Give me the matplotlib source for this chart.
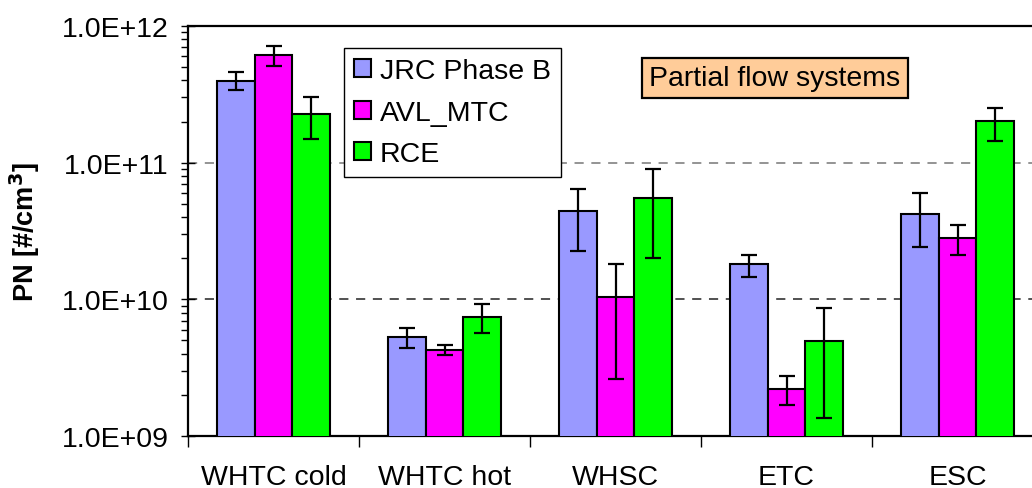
import matplotlib.pyplot as plt
import numpy as np
from matplotlib.ticker import LogLocator, FuncFormatter, NullFormatter

plt.rcParams['font.family'] = ['Liberation Sans', 'DejaVu Sans']

# values (particles per cm3)
cycles = ['WHTC cold', 'WHTC hot', 'WHSC', 'ETC', 'ESC']
labs = ['JRC Phase B', 'AVL_MTC', 'RCE']

jrc = [3.94e11, 5.33e9, 4.43e10, 1.81e10, 4.24e10]
jrc_hi = [4.6e11, 6.18e9, 6.42e10, 2.11e10, 5.97e10]
jrc_lo = [3.4e11, 4.41e9, 2.27e10, 1.45e10, 2.43e10]

avl = [6.1e11, 4.29e9, 1.035e10, 2.19e9, 2.83e10]
avl_hi = [7.1e11, 4.6e9, 1.81e10, 2.74e9, 3.52e10]
avl_lo = [5.1e11, 3.92e9, 2.63e9, 1.69e9, 2.1e10]

rce = [2.26e11, 7.43e9, 5.52e10, 4.96e9, 2.01e11]
rce_hi = [3.03e11, 9.3e9, 8.95e10, 8.6e9, 2.51e11]
rce_lo = [1.5e11, 5.7e9, 2.02e10, 1.35e9, 1.44e11]

colors = ['#9999ff', '#ff00ff', '#00ff00']

fig = plt.figure(figsize=(10.32, 4.89), dpi=100)
# axes runs slightly past the right edge, like the original screenshot
ax = fig.add_axes([188/1032, 1 - 437/489, 855/1032, 410/489])

x = np.arange(len(cycles))
w = 0.222
series = [(jrc, jrc_lo, jrc_hi), (avl, avl_lo, avl_hi), (rce, rce_lo, rce_hi)]
for i, (vals, lo, hi) in enumerate(series):
    vals = np.array(vals)
    err = [vals - np.array(lo), np.array(hi) - vals]
    ax.bar(x + (i - 1) * w, vals, width=w, color=colors[i], edgecolor='black',
           linewidth=1.5, label=labs[i], zorder=3)
    ax.errorbar(x + (i - 1) * w, vals, yerr=err, fmt='none', ecolor='black',
                elinewidth=1.6, capsize=6, capthick=1.6, zorder=4)

ax.set_yscale('log')
ax.set_ylim(1e9, 1e12)
ax.set_xlim(-0.5, len(cycles) - 0.5)

ax.yaxis.set_major_locator(LogLocator(base=10, numticks=10))
ax.yaxis.set_minor_locator(LogLocator(base=10, subs=np.arange(2, 10), numticks=10))
ax.yaxis.set_major_formatter(FuncFormatter(lambda v, p: '1.0E+%02d' % int(round(np.log10(v)))))
ax.yaxis.set_minor_formatter(NullFormatter())
ax.tick_params(axis='y', which='major', direction='inout', length=10, width=1,
               labelsize=20.5, pad=9)
ax.tick_params(axis='y', which='minor', direction='out', length=5, width=1)

ax.set_xticks(np.arange(len(cycles) + 1) - 0.5, minor=False)
ax.set_xticklabels([''] * (len(cycles) + 1))
ax.set_xticks(x, minor=True)
ax.set_xticklabels(cycles, minor=True)
ax.tick_params(axis='x', which='major', direction='out', length=8, width=1)
ax.tick_params(axis='x', which='minor', length=0, labelsize=20.5, pad=20)

for v, c in [(1e10, '#222222'), (1e11, '#777777')]:
    ax.axhline(v, color=c, linestyle=(0, (6, 5)), linewidth=1.1, zorder=1)

for s in ax.spines.values():
    s.set_linewidth(1.6)

ax.set_ylabel('PN [#/cm$^\\mathbf{3}$]', fontsize=19.5, fontweight='bold')
ax.yaxis.set_label_coords((42 - 188) / 855, 0.5)

leg = ax.legend(loc='upper left', bbox_to_anchor=(344/1032, 1 - 49/489),
                bbox_transform=fig.transFigure, fontsize=20.5, frameon=True,
                fancybox=False, edgecolor='black', framealpha=1,
                handlelength=0.6, handleheight=0.6, handletextpad=0.3,
                labelspacing=0.55, borderpad=0.35, borderaxespad=0)
leg.get_frame().set_linewidth(1.0)
leg.set_zorder(5)

fig.text(775/1032, 1 - 79/489, 'Partial flow systems', fontsize=20.5,
         ha='center', va='center',
         bbox=dict(boxstyle='square,pad=0.25', facecolor='#ffcc99',
                   edgecolor='black', linewidth=1.6))

fig.savefig('out.png', dpi=100)
